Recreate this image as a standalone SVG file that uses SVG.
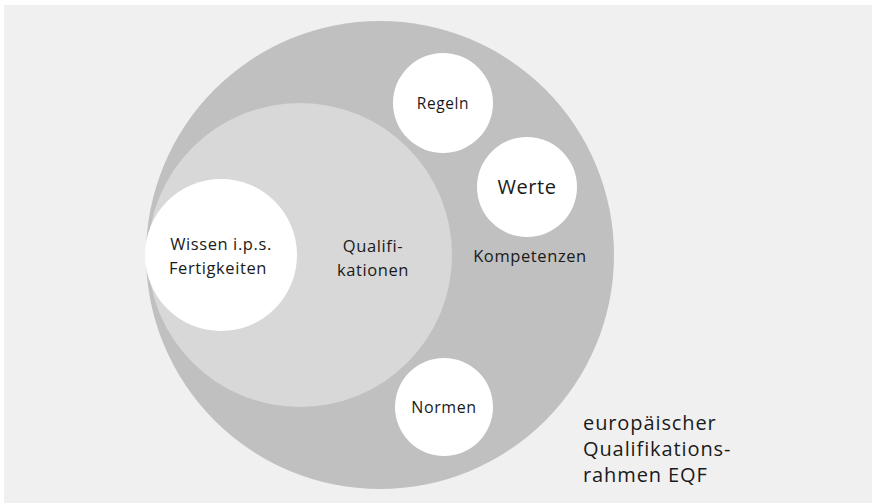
<svg xmlns="http://www.w3.org/2000/svg" width="872" height="503" viewBox="0 0 872 503">
<style>
text{font-family:"Open Sans","Noto Sans","Liberation Sans",sans-serif;fill:#1a1a1a;text-anchor:middle;letter-spacing:0.6px}
.eqf{text-anchor:start;font-size:20px;letter-spacing:0.9px}
.outer{fill:#c0c0c0}
.inner{fill:#d8d8d8}
.white{fill:#ffffff}
</style>
<rect x="0" y="0" width="872" height="503" fill="#ffffff"/>
<rect x="4" y="5" width="868" height="498" fill="#f0f0f0"/>
<g id="eqf">
<circle class="outer" cx="380" cy="255" r="234"/>
<text class="eqf" x="583" y="430">europäischer</text>
<text class="eqf" x="583" y="456">Qualifikations-</text>
<text class="eqf" x="583" y="482">rahmen EQF</text>
</g>
<g id="kompetenzen">
<text x="530" y="262" style="font-size:16.5px">Kompetenzen</text>
</g>
<g id="qualifikationen">
<circle class="inner" cx="300" cy="255" r="152"/>
<text x="373" y="252" style="font-size:16.5px">Qualifi-</text>
<text x="373" y="276" style="font-size:16.5px">kationen</text>
</g>
<g id="wissen">
<circle class="white" cx="221" cy="255" r="76"/>
<text x="221" y="250" style="font-size:16.5px">Wissen i.p.s.</text>
<text x="218" y="274" style="font-size:16.5px">Fertigkeiten</text>
</g>
<g id="regeln">
<circle class="white" cx="443" cy="103" r="50"/>
<text x="443" y="109" style="font-size:15.5px">Regeln</text>
</g>
<g id="werte">
<circle class="white" cx="527" cy="187" r="50"/>
<text x="527" y="194" style="font-size:20px">Werte</text>
</g>
<g id="normen">
<circle class="white" cx="444" cy="407" r="49"/>
<text x="444" y="413" style="font-size:16px">Normen</text>
</g>
</svg>
